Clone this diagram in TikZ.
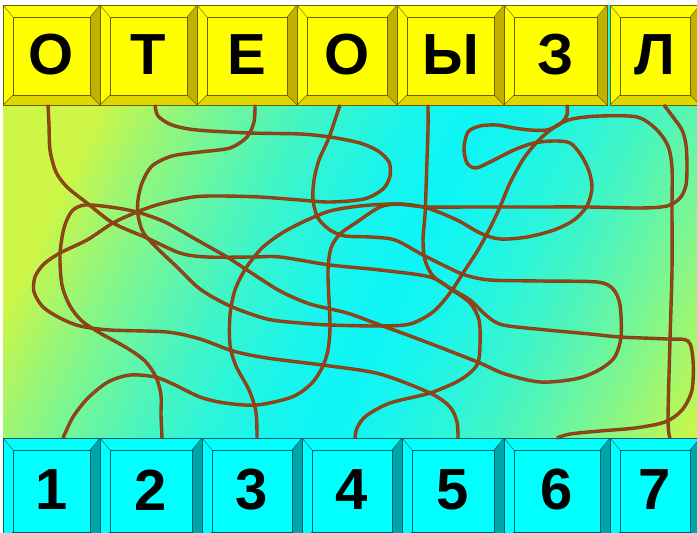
\documentclass[tikz,border=0pt]{standalone}
\usepackage{fontspec}
\setmainfont{Liberation Sans}
\usepackage{xcolor}
\usetikzlibrary{calc}

\definecolor{bgyg}{RGB}{205,246,70}
\definecolor{bgcy}{RGB}{15,245,245}
\definecolor{yface}{RGB}{255,255,0}
\definecolor{ydark}{RGB}{196,176,0}
\definecolor{ymid}{RGB}{224,214,0}
\definecolor{yline}{RGB}{110,96,0}
\definecolor{cface}{RGB}{0,255,255}
\definecolor{cdark}{RGB}{0,165,170}
\definecolor{cmid}{RGB}{0,210,215}
\definecolor{cline}{RGB}{0,95,105}
\definecolor{wireedge}{RGB}{112,72,22}
\definecolor{wirecore}{RGB}{168,62,22}

% bevelled frame round a key node
\newcommand{\bevels}[4]{%
  \fill[#2] (#1.north east) -- ($(#1.north east)+(-10,12)$) -- ($(#1.south east)+(-10,-10)$) -- (#1.south east) -- cycle;
  \fill[#3] (#1.south west) -- ($(#1.south west)+(10,-10)$) -- ($(#1.south east)+(-10,-10)$) -- (#1.south east) -- cycle;
  \draw[#4] ($(#1.north west)+(10,12)$) rectangle ($(#1.south east)+(-10,-10)$);
  \draw[#4] (#1.north west) -- ++(10,12) (#1.north east) -- ++(-10,12)
            (#1.south west) -- ++(10,-10) (#1.south east) -- ++(-10,-10);
  \draw[#4] (#1.north west) rectangle (#1.south east);
}

\begin{document}
\begin{tikzpicture}[x=1pt,y=-1pt,
  topkey/.style={draw=yline,fill=yface,line width=0.6pt,minimum height=100pt,
    inner sep=0pt,outer sep=0pt,font=\bfseries\fontsize{58}{58}\selectfont},
  numkey/.style={topkey,draw=cline,fill=cface,minimum height=104pt},
  wire/.style={draw=wirecore,line width=1.5pt,line cap=round,line join=round,
    preaction={draw=wireedge,line width=3.4pt}}]
  \useasboundingbox (0,0) rectangle (697,533);
  \clip (0,0) rectangle (697,533);
  \fill[white] (0,0) rectangle (697,533);

  % background
  \begin{scope}
    \clip (3,5) rectangle (697,533);
    \begin{scope}[shift={(400,271)},rotate=-25.6]
      \foreach \d in {-470,-465,...,470}{
        \pgfmathtruncatemacro\p{100*min(1,(abs(\d)+1)/340)^1.6}
        \fill[bgyg!\p!bgcy] (\d-3,-520) rectangle (\d+3,520);
      }
    \end{scope}
  \end{scope}

  % keys
  \foreach \cx/\w/\t [count=\i] in {51.5/97/О,148.5/97/Т,247/100/Е,347/100/О,450.5/107/Ы,555.5/103/З,655/90/Л}{
    \node[topkey,minimum width=\w pt] (t\i) at (\cx,55) {\t};
    \bevels{t\i}{ydark}{ymid}{yline}
  }
  \foreach \cx/\w/\t [count=\i] in {51.5/97/1,151/102/2,252/100/3,352/100/4,453/102/5,557/106/6,655/90/7}{
    \node[numkey,minimum width=\w pt] (n\i) at (\cx,490) {\t};
    \bevels{n\i}{cdark}{cmid}{cline}
  }

  % wire ends
  \foreach \i/\dx in {1/-3.5,2/6.5,3/8,4/-7,5/-22.5,6/11.5,7/9}
    \coordinate (a\i) at ($(t\i.south)+(\dx,0)$);
  \foreach \i/\dx in {1/11.5,2/11,3/5,4/3,5/5,6/0,7/15}
    \coordinate (b\i) at ($(n\i.north)+(\dx,0)$);

  % tangled wires
  \draw[wire] plot[smooth] coordinates {(a1) (49,125) (50,150) (56,172) (67,187) (87,203)
    (113,223) (147,238) (180,253) (207,257) (253,257) (280,257) (330,265) (380,270)
    (430,277) (452,290) (470,303) (479,320) (480,345) (477,365) (460,380) (430,393)
    (390,403) (366,416) (357,428) (b4)};
  \draw[wire] plot[smooth] coordinates {(a2) (158,116) (172,125) (197,130) (250,133)
    (300,134) (330,137) (360,143) (378,151) (389,162) (390,176) (383,189) (364,199)
    (330,202) (300,200) (260,197) (220,196) (193,197) (160,204) (137,212) (113,223)
    (87,240) (60,253) (44,264) (35,277) (34,292) (43,307) (60,318) (80,326) (110,330)
    (167,332) (200,339) (233,351) (267,358) (330,366) (380,374) (430,393) (450,407)
    (457,422) (b5)};
  \draw[wire] plot[smooth] coordinates {(a3) (254,122) (247,137) (230,148) (200,152)
    (172,156) (152,166) (142,183) (138,200) (138,215) (143,232) (156,247) (177,267)
    (200,289) (230,306) (267,319) (300,323) (330,325) (380,326) (410,324) (433,312)
    (450,293) (463,273) (478,250) (490,228) (500,207) (510,183) (524,158) (540,139)
    (556,126) (572,119) (600,116) (637,117) (656,129) (668,146) (672,168) (672,207)
    (672,270) (670,340) (668,420) (b7)};
  \draw[wire] plot[smooth] coordinates {(a4) (335,120) (328,140) (319,160) (314,180)
    (313,200) (318,218) (330,230) (345,236) (370,237) (395,240) (423,255) (447,267)
    (465,275) (490,280) (540,281) (597,282) (613,289) (620,305) (621,337) (614,358)
    (597,371) (575,379) (540,382) (505,374) (480,363) (447,350) (413,337) (380,325)
    (347,313) (310,304) (280,291) (247,270) (227,257) (197,240) (165,222) (137,212)
    (110,207) (85,205) (72,211) (64,228) (60,255) (62,285) (70,306) (82,321) (100,333)
    (127,348) (145,361) (156,377) (161,395) (161,415) (b2)};
  \draw[wire] plot[smooth] coordinates {(a5) (428,130) (427,160) (426,190) (425,215)
    (423,240) (425,260) (433,276) (450,288) (470,300) (487,316) (503,325) (547,330)
    (590,334) (620,337) (667,339) (688,341) (693,360) (692,390) (682,410) (665,422)
    (635,428) (600,431) (570,434) (b6)};
  \draw[wire] plot[smooth] coordinates {(a6) (567,115) (560,124) (547,130) (530,130)
    (514,128) (497,125) (480,126) (468,132) (464,148) (467,163) (476,168) (492,161)
    (514,150) (534,143) (554,141) (570,143) (581,155) (589,171) (592,188) (587,206)
    (574,220) (554,230) (527,237) (500,239) (480,233) (457,220) (427,208) (400,204)
    (380,207) (357,222) (340,234) (331,248) (328,270) (329,300) (330,327) (328,350)
    (322,368) (311,384) (292,397) (257,405) (225,403) (200,397) (173,384) (155,377)
    (130,375) (108,382) (88,398) (73,417) (b1)};
  \draw[wire] plot[smooth] coordinates {(a7) (673,117) (682,130) (686,145) (687,165)
    (686,185) (680,198) (667,206) (640,208) (587,207) (520,207) (470,207) (427,207)
    (395,204) (360,206) (330,211) (305,221) (282,233) (262,248) (246,268) (235,290)
    (230,315) (230,345) (236,366) (249,390) (256,412) (b3)};
\end{tikzpicture}
\end{document}
